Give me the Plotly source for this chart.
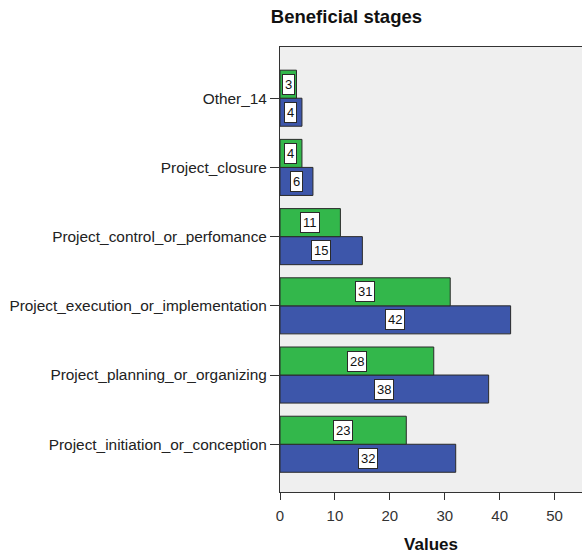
import plotly.graph_objects as go

# Stages, listed bottom to top
stages = [
    "Project_initiation_or_conception",
    "Project_planning_or_organizing",
    "Project_execution_or_implementation",
    "Project_control_or_perfomance",
    "Project_closure",
    "Other_14",
]
blue_values = [32, 38, 42, 15, 6, 4]
green_values = [23, 28, 31, 11, 4, 3]
x_ticks = [0, 10, 20, 30, 40, 50]

GREEN = "#33b74b"
BLUE = "#3d56aa"
EDGE = "#2a2a2a"
FONT = "Liberation Sans, Arial, sans-serif"

fig = go.Figure()
fig.add_trace(go.Bar(
    y=stages, x=blue_values, orientation="h", name="blue",
    marker=dict(color=BLUE, line=dict(color=EDGE, width=1)),
    hoverinfo="x+y",
))
fig.add_trace(go.Bar(
    y=stages, x=green_values, orientation="h", name="green",
    marker=dict(color=GREEN, line=dict(color=EDGE, width=1)),
    hoverinfo="x+y",
))

BARGAP = 0.19
half = (1 - BARGAP) / 4  # centre offset of each bar within its group

annotations = []
for i, (b, g) in enumerate(zip(blue_values, green_values)):
    for val, off in ((b, -half), (g, half)):
        annotations.append(dict(
            x=val / 2, y=i + off, xref="x", yref="y",
            text=str(val), showarrow=False,
            font=dict(family=FONT, size=13, color="#111"),
            bgcolor="white", bordercolor=EDGE, borderwidth=1, borderpad=2,
        ))

fig.update_layout(
    width=582, height=554,
    margin=dict(l=280, r=0, t=47, b=62),
    paper_bgcolor="white",
    plot_bgcolor="#efefef",
    barmode="group",
    bargap=BARGAP,
    bargroupgap=0,
    showlegend=False,
    font=dict(family=FONT, size=15, color="#222"),
    title=dict(
        text="<b>Beneficial stages</b>",
        x=0.22, xref="paper", xanchor="center",
        y=1 - 17 / 554, yref="container", yanchor="middle",
        font=dict(family=FONT, size=18.5, color="#111"),
    ),
    annotations=annotations,
)

fig.update_xaxes(
    range=[0, 55],
    tickvals=x_ticks,
    ticks="outside", ticklen=7, tickcolor="#333", tickwidth=1,
    showline=True, linecolor="#333", linewidth=1, mirror=True,
    showgrid=False, zeroline=False,
    ticklabelstandoff=3,
    tickfont=dict(family=FONT, size=15, color="#333"),
    title=dict(text="<b>Values</b>", standoff=16,
               font=dict(family=FONT, size=17, color="#111")),
)
fig.update_yaxes(
    type="category",
    range=[-0.69, 5.74],
    ticks="outside", ticklen=9, tickcolor="#333", tickwidth=1,
    showline=True, linecolor="#333", linewidth=1,
    showgrid=False, zeroline=False,
    tickfont=dict(family=FONT, size=15.4, color="#222"),
)

fig.write_html("out.html")
